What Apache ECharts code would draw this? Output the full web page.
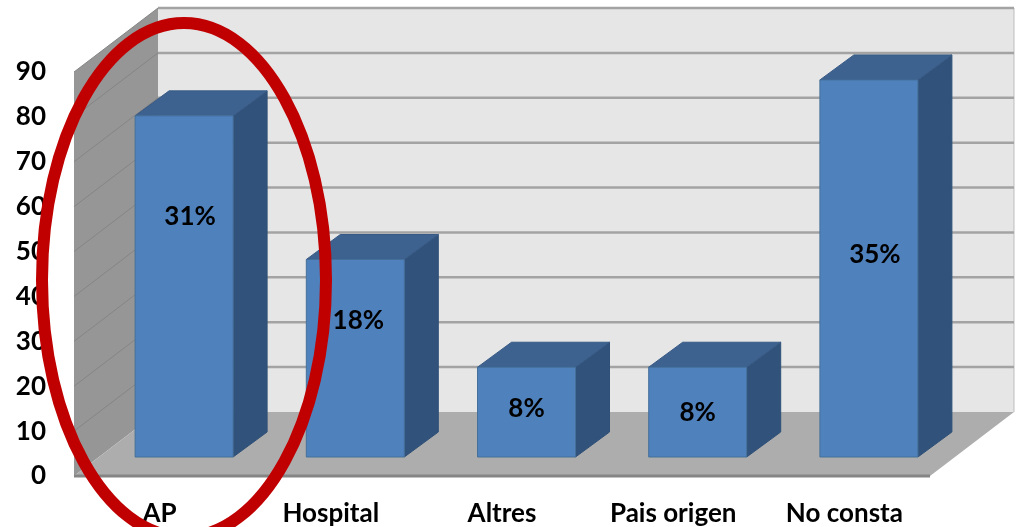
<!DOCTYPE html>
<html>
<head>
<meta charset="utf-8">
<style>
html, body { margin: 0; padding: 0; background: #fff; }
#chart { width: 1018px; height: 527px; }
</style>
<script src="https://cdn.jsdelivr.net/npm/echarts@6/dist/echarts.min.js"></script>
</head>
<body>
<div id="chart"></div>
<script>
const categories = ['AP', 'Hospital', 'Altres', 'Pais origen', 'No consta']
const values = [76, 44, 20, 20, 84]
const percents = ['31%', '18%', '8%', '8%', '35%']
const yTicks = [0, 10, 20, 30, 40, 50, 60, 70, 80, 90]

// depth of the box the chart sits in
const wallDx = 84
const wallDy = -64
// bars stand a bit back from the front edge of the floor
const barShiftX = 24.5
const barShiftY = -19
const barWidth = 98
const barDx = 34
const barDy = -25
// the percent labels were moved by hand in the original
const labelShift = [[6, -70], [3, -38], [0, -4], [0, 0], [6, -14]]

const font = 'Lato, Carlito, sans-serif'
const chart = echarts.init(document.getElementById('chart'))

const renderBox = (params, api) => {
    const g = params.coordSys
    const left = g.x
    const right = g.x + g.width
    const top = g.y
    const bottom = g.y + g.height
    const poly = (points, fill) => ({
        type: 'polygon',
        shape: { points: points },
        style: { fill: fill, stroke: null }
    })
    return {
        type: 'group',
        children: [
            poly([[left + wallDx, top + wallDy], [right + wallDx, top + wallDy], [right + wallDx, bottom + wallDy], [left + wallDx, bottom + wallDy]], '#e6e6e6'),
            poly([[left, top], [left + wallDx, top + wallDy], [left + wallDx, bottom + wallDy], [left, bottom]], '#969696'),
            poly([[left, bottom], [left + wallDx, bottom + wallDy], [right + wallDx, bottom + wallDy], [right, bottom]], '#adadad'),
            {
                type: 'line',
                shape: { x1: right + wallDx, y1: top + wallDy, x2: right + wallDx, y2: bottom + wallDy },
                style: { stroke: '#bdbdbd', lineWidth: 1 }
            },
            {
                type: 'line',
                shape: { x1: left, y1: bottom, x2: right, y2: bottom },
                style: { stroke: '#858585', lineWidth: 3 }
            }
        ]
    }
}

const renderGridLine = (params, api) => {
    const g = params.coordSys
    const y = api.coord([0, api.value(0)])[1]
    const xBack = g.x + wallDx
    const yBack = y + wallDy
    return {
        type: 'group',
        children: [
            {
                type: 'line',
                shape: { x1: g.x, y1: y, x2: xBack, y2: yBack },
                style: { stroke: '#858585', lineWidth: 1 }
            },
            {
                type: 'line',
                shape: { x1: xBack, y1: yBack, x2: g.x + g.width + wallDx, y2: yBack },
                style: { stroke: '#a3a3a3', lineWidth: 2.5 }
            }
        ]
    }
}

const renderBar = (params, api) => {
    const i = api.value(0)
    const topPt = api.coord([i, api.value(1)])
    const basePt = api.coord([i, 0])
    const x1 = topPt[0] + barShiftX - barWidth / 2
    const x2 = x1 + barWidth
    const y1 = topPt[1] + barShiftY
    const y2 = basePt[1] + barShiftY
    const shift = labelShift[params.dataIndex]
    return {
        type: 'group',
        children: [
            {
                type: 'polygon',
                shape: { points: [[x2, y1], [x2 + barDx, y1 + barDy], [x2 + barDx, y2 + barDy], [x2, y2]] },
                style: { fill: '#31527a', stroke: '#2f5077', lineWidth: 1 }
            },
            {
                type: 'polygon',
                shape: { points: [[x1, y1], [x1 + barDx, y1 + barDy], [x2 + barDx, y1 + barDy], [x2, y1]] },
                style: { fill: '#3d628f', stroke: '#385a85', lineWidth: 1 }
            },
            {
                type: 'rect',
                shape: { x: x1, y: y1, width: barWidth, height: y2 - y1 },
                style: { fill: '#4f81bd', stroke: '#457099', lineWidth: 1 }
            },
            {
                type: 'text',
                style: {
                    text: percents[params.dataIndex],
                    x: (x1 + x2) / 2 + shift[0],
                    y: (y1 + y2) / 2 + shift[1],
                    align: 'center',
                    verticalAlign: 'middle',
                    fill: '#000',
                    font: 'bold 26px ' + font
                }
            }
        ]
    }
}

const option = {
    animation: false,
    grid: { left: 74, right: 88, top: 72, bottom: 51 },
    xAxis: {
        type: 'category',
        data: categories,
        axisLine: { show: false },
        axisTick: { show: false },
        axisLabel: { interval: 0, margin: 25, color: '#000', fontFamily: font, fontWeight: 'bold', fontSize: 26 }
    },
    yAxis: {
        type: 'value',
        min: 0,
        max: 90,
        interval: 10,
        axisLine: { show: false },
        axisTick: { show: false },
        splitLine: { show: false },
        axisLabel: { margin: 28, color: '#000', fontFamily: font, fontWeight: 'bold', fontSize: 26 }
    },
    series: [
        { type: 'custom', data: [[0]], renderItem: renderBox, silent: true, z: 1 },
        { type: 'custom', data: yTicks.slice(1).map((t) => [t]), encode: { y: 0 }, renderItem: renderGridLine, silent: true, z: 2 },
        { type: 'custom', data: values.map((v, i) => [i, v]), encode: { x: 0, y: 1 }, renderItem: renderBar, z: 3 }
    ],
    graphic: [
        {
            type: 'ellipse',
            z: 100,
            shape: { cx: 184, cy: 280, rx: 142, ry: 257 },
            style: { fill: null, stroke: '#c00000', lineWidth: 12 }
        }
    ]
}
chart.setOption(option)
</script>
</body>
</html>
